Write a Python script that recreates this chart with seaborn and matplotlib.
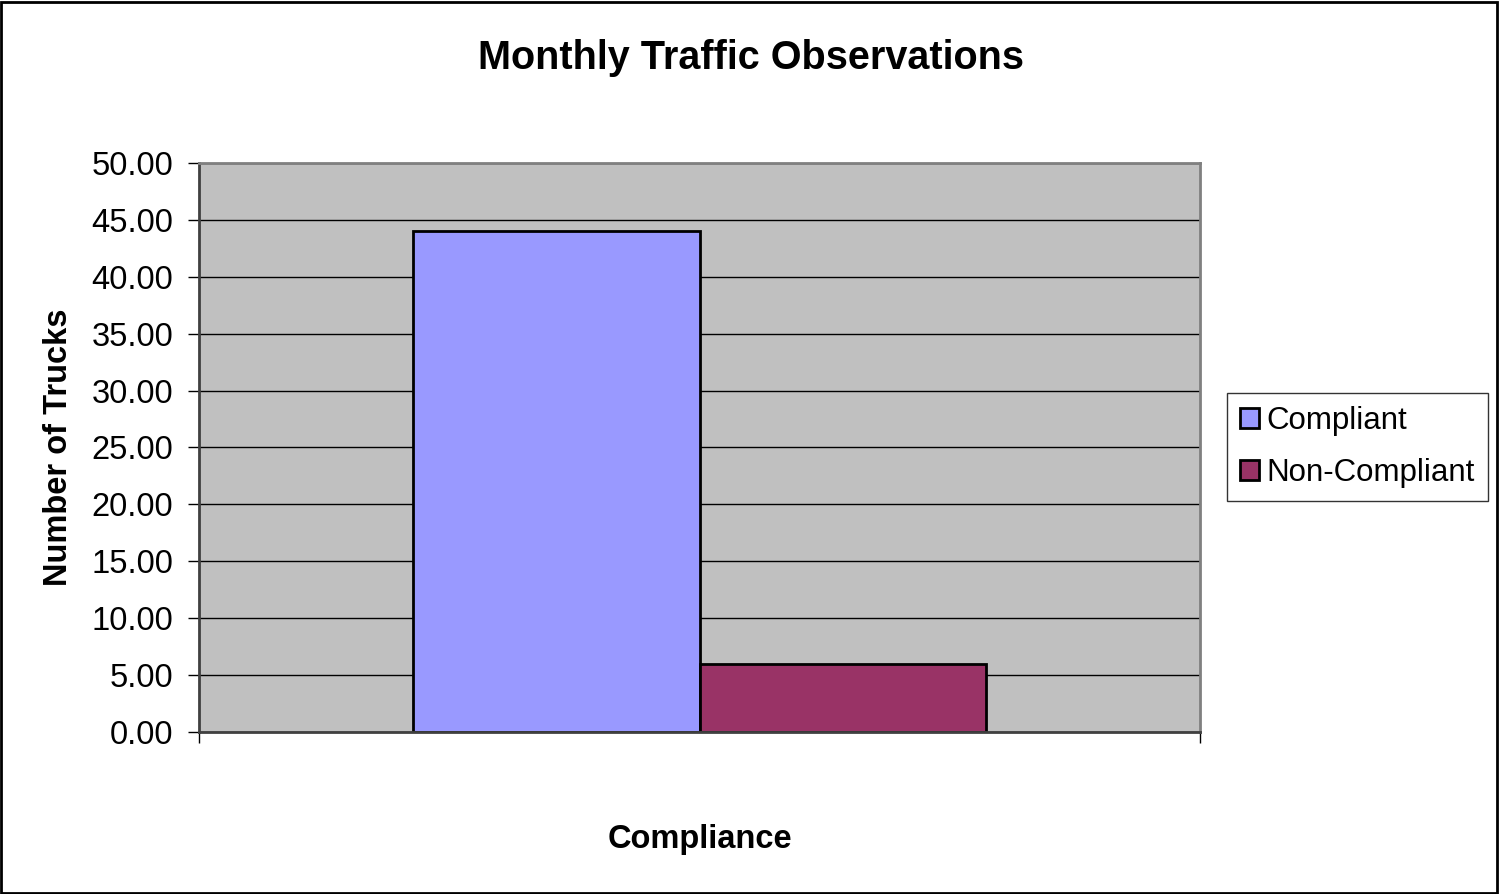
import matplotlib
matplotlib.use("Agg")
import matplotlib.pyplot as plt
import matplotlib.ticker as mticker
from matplotlib.patches import Rectangle
import pandas as pd
import seaborn as sns

# ── Dados ──────────────────────────────────────────────
grupos = ["Compliance", "Compliance"]
status = ["Compliant", "Non-Compliant"]
caminhoes = [44.0, 6.0]
cores = {"Compliant": "#9999FF", "Non-Compliant": "#993366"}

sns.set_theme(style="white")
plt.rcParams["font.family"] = ["Liberation Sans", "DejaVu Sans"]
plt.rcParams.update({"text.color": "black", "axes.labelcolor": "black",
                     "ytick.color": "black", "xtick.color": "black"})

df = pd.DataFrame({"grupo": grupos, "status": status, "valor": caminhoes})

fig = plt.figure(figsize=(14.99, 8.94), dpi=100, facecolor="white")
ax = fig.add_axes([0.1328, 0.1812, 0.6677, 0.6365])
ax.set_facecolor("#C0C0C0")

sns.barplot(
    data=df, x="grupo", y="valor", hue="status", palette=cores,
    width=0.573, dodge=True, edgecolor="black", linewidth=2,
    saturation=1, ax=ax, legend=True,
)

ax.set_xlim(-0.5, 0.5)
ax.set_ylim(0, 50)
ax.yaxis.set_major_locator(mticker.MultipleLocator(5))
ax.yaxis.set_major_formatter(mticker.FormatStrFormatter("%.2f"))
ax.yaxis.grid(True, color="black", linewidth=1)
ax.set_axisbelow(True)

ax.set_xticks([])
ax.set_xticks([-0.5, 0.5], minor=True)
ax.tick_params(axis="x", which="minor", length=8, width=1, direction="out", bottom=True)
ax.tick_params(axis="y", length=8, width=1, direction="out", left=True,
               labelsize=23.5, pad=10.5)

ax.spines["top"].set_color("#808080")
ax.spines["right"].set_color("#808080")
ax.spines["left"].set_color("#404040")
ax.spines["bottom"].set_color("#404040")
for s in ax.spines.values():
    s.set_linewidth(2)

ax.set_xlabel("Compliance", fontsize=23.5, fontweight="bold", labelpad=55)
ax.set_ylabel("Number of Trucks", fontsize=23.5, fontweight="bold", labelpad=12.5)
fig.text(0.5013, 0.935, "Monthly Traffic Observations", ha="center", va="center",
         fontsize=28.5, fontweight="bold")

handles, labels = ax.get_legend_handles_labels()
ax.legend_.remove()
leg = fig.legend(
    handles, labels, loc="center left", bbox_to_anchor=(0.8185, 0.5),
    fontsize=22.5, frameon=True, fancybox=False, edgecolor="black",
    handlelength=0.6, handleheight=0.6, handletextpad=0.25, borderpad=0.42,
    labelspacing=0.72, borderaxespad=0,
)
leg.get_frame().set_linewidth(1)

fig.patches.append(Rectangle((0.0005, 0.001), 0.998, 0.997, transform=fig.transFigure,
                             fill=False, edgecolor="black", linewidth=2))

fig.savefig("out.png", dpi=100, facecolor="white")
